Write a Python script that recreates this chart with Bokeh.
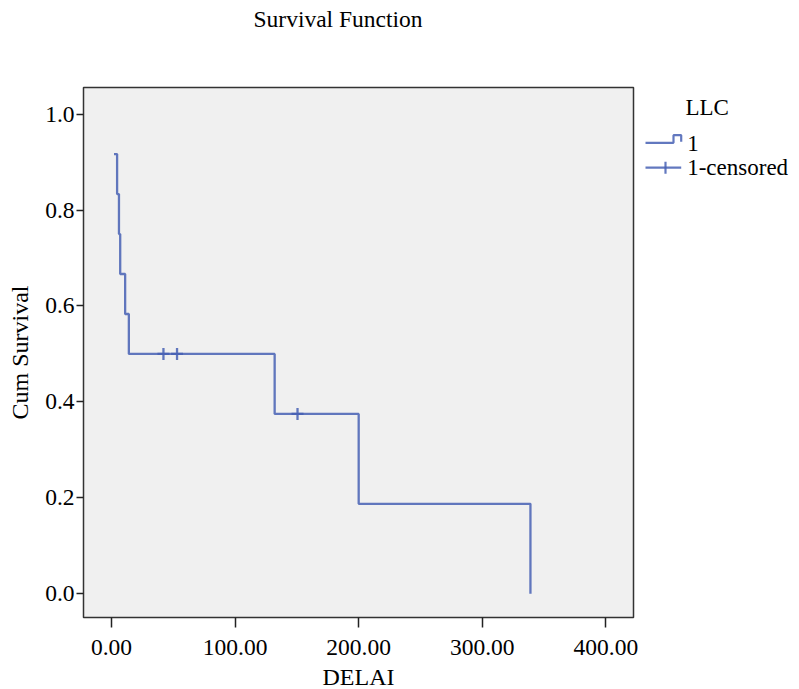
from bokeh.plotting import figure
from bokeh.layouts import row
from bokeh.models import FixedTicker, PrintfTickFormatter, Range1d, Title
from bokeh.core.properties import value
from bokeh.embed import file_html
from bokeh.resources import INLINE

# ---- data ----
event_time = [2, 4.5, 6, 7, 11, 14, 132, 200, 339]
cum_survival = [0.9167, 0.8333, 0.75, 0.6667, 0.5833, 0.5, 0.375, 0.1875, 0.0]
censor_time = [42, 53, 150.5]
censor_survival = [0.5, 0.5, 0.375]
x_ticks = [0, 100, 200, 300, 400]
y_ticks = [0.0, 0.2, 0.4, 0.6, 0.8, 1.0]
legend_title = "LLC"
series_labels = ["1", "1-censored"]

FONT = "Liberation Serif"
BLUE = "#4660b4"

p = figure(title=None, frame_width=550, frame_height=530, output_backend="svg",
           toolbar_location=None,
           x_range=Range1d(-22.7, 422.4), y_range=Range1d(-0.0494, 1.0555),
           min_border_left=83, min_border_right=7, min_border_top=87,
           min_border_bottom=71)

# spacer panel (nearest the frame) then the real title above it
p.add_layout(Title(text=" ", text_font_size="24px", standoff=27), "above")
p.add_layout(Title(text="Survival Function", align="left", offset=170, standoff=0,
                   text_font=FONT, text_font_size="23.5px", text_font_style="normal",
                   text_color="black"), "above")

p.background_fill_color = "#f0f0f0"
p.border_fill_color = "white"
p.outline_line_color = "#333333"
p.outline_line_width = 1.5
p.xgrid.visible = False
p.ygrid.visible = False

p.step(event_time, cum_survival, mode="after", line_color=BLUE, line_width=2.3, line_alpha=0.85)
p.scatter(censor_time, censor_survival, marker="cross", size=12, line_color=BLUE,
          line_width=2.3, line_alpha=0.85)

for ax in (p.xaxis[0], p.yaxis[0]):
    ax.axis_line_color = None
    ax.major_tick_in = 0
    ax.minor_tick_line_color = None
    ax.major_tick_line_color = "#222222"
    ax.major_tick_line_width = 1.5
    ax.major_label_text_font = FONT
    ax.major_label_text_font_size = "23.5px"
    ax.major_label_text_color = "black"
    ax.axis_label_text_font = FONT
    ax.axis_label_text_font_size = "24px"
    ax.axis_label_text_font_style = "normal"
    ax.axis_label_text_color = "black"

p.xaxis.ticker = FixedTicker(ticks=x_ticks)
p.xaxis.formatter = PrintfTickFormatter(format="%.2f")
p.xaxis.major_tick_out = 10
p.xaxis.major_label_standoff = 12
p.xaxis.axis_label = "DELAI"
p.xaxis.axis_label_standoff = 6

p.yaxis.ticker = FixedTicker(ticks=y_ticks)
p.yaxis.formatter = PrintfTickFormatter(format="%.1f")
p.yaxis.major_tick_out = 7
p.yaxis.major_label_standoff = 2
p.yaxis.axis_label = "Cum Survival"
p.yaxis.axis_label_standoff = 9

# ---- legend panel: its frame is aligned with the main frame (y in page pixels) ----
lg = figure(width=158, height=688, output_backend="svg", toolbar_location=None,
            x_range=Range1d(0, 158), y_range=Range1d(617, 87),
            min_border=0, outline_line_color=None)
lg.axis.visible = False
lg.grid.visible = False
lg.background_fill_color = "white"
lg.border_fill_color = "white"

lg.text(x=[45], y=[107], text=[legend_title], text_font=value(FONT), text_font_size="23px",
        text_baseline="alphabetic", text_align="left", text_color="black")
lg.text(x=[46.7, 46.7], y=[143.7, 168], text=series_labels, text_font=value(FONT),
        text_font_size="23px", text_baseline="alphabetic", text_align="left",
        text_color="black")

lg.line(x=[5, 33, 33, 40.7, 40.7], y=[142.7, 142.7, 135, 135, 141.7],
        line_color=BLUE, line_width=2.2, line_alpha=0.85)
lg.line(x=[5, 40.7], y=[167.7, 167.7], line_color=BLUE, line_width=2.2, line_alpha=0.85)
lg.line(x=[25, 25], y=[161.7, 174], line_color=BLUE, line_width=2.2, line_alpha=0.85)

layout = row(p, lg)
open("out.html", "w").write(file_html(layout, INLINE))
